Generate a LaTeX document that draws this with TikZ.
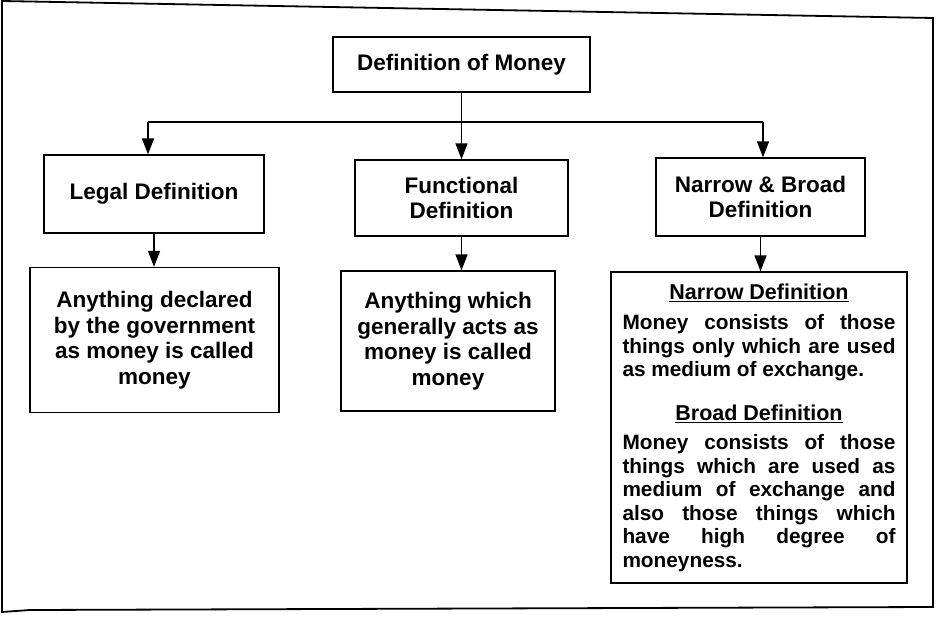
\documentclass[tikz,border=0pt]{standalone}
\usepackage{fontspec}
\setmainfont{Liberation Sans}
\usetikzlibrary{arrows.meta}
\begin{document}
\begin{tikzpicture}[x=1pt,y=-1pt,
  box/.style={draw, line width=1.3pt, fill=white, align=center, inner sep=0pt,
    font=\bfseries\fontsize{22.5}{25}\selectfont},
  conn/.style={line width=1.4pt},
  arr/.style={line width=1.4pt, -{Triangle[length=16pt,width=12pt]}},
  frame/.style={line width=1.8pt}]
\useasboundingbox (0,0) rectangle (945,617);
\fill[white] (0,0) rectangle (945,617);
\draw[frame] (2,1) -- (933,18) -- (933,607) -- (30,610) -- (2,612) -- cycle;

\node[box, minimum width=257pt, minimum height=55pt] (top) at (461.5,64.5) {Definition of Money};
\node[box, minimum width=220pt, minimum height=78pt] (legal) at (154,194) {Legal Definition};
\node[box, minimum width=213pt, minimum height=76pt] (func) at (461.5,198) {Functional\\Definition};
\node[box, minimum width=209pt, minimum height=78pt] (nb) at (760.5,197) {Narrow \& Broad\\Definition};

\node[box, minimum width=249pt, minimum height=145pt, font=\bfseries\fontsize{22.5}{25.5}\selectfont] (legaltxt) at (154.5,340)
  {Anything declared\\by the government\\as money is called\\money};
\node[box, minimum width=214pt, minimum height=140pt, font=\bfseries\fontsize{22.5}{25.5}\selectfont] (functxt) at (448,341)
  {Anything which\\generally acts as\\money is called\\money};

\node[draw, line width=1.3pt, fill=white, minimum width=296pt, minimum height=311pt, inner sep=0pt,
  text width=273pt, align=justify, font=\bfseries\fontsize{20.8}{23.5}\selectfont] (big) at (759,427.5)
{{\centering\fontsize{21.5}{23.5}\selectfont\underline{Narrow Definition}\par}\vspace{7pt}
Money consists of those\linebreak things only which are used\linebreak as medium of exchange.\par
\vspace{20pt}
{\centering\fontsize{21.5}{23.5}\selectfont\underline{Broad Definition}\par}\vspace{6pt}
Money consists of those\linebreak things which are used as\linebreak medium of exchange and\linebreak also those things which\linebreak have high degree of\linebreak moneyness.\par};

\coordinate (busl) at (148,122);
\coordinate (busr) at (763,122);
\draw[arr] (top.south) -- (func.north);
\draw[conn] (busl) -- (busr);
\draw[arr] (busl) -- (busl |- legal.north);
\draw[arr] (busr) -- (busr |- nb.north);
\draw[arr] (legal.south) -- (legal.south |- legaltxt.north);
\draw[arr] (func.south) -- (func.south |- functxt.north);
\draw[arr] (nb.south) -- (nb.south |- big.north);
\end{tikzpicture}
\end{document}
